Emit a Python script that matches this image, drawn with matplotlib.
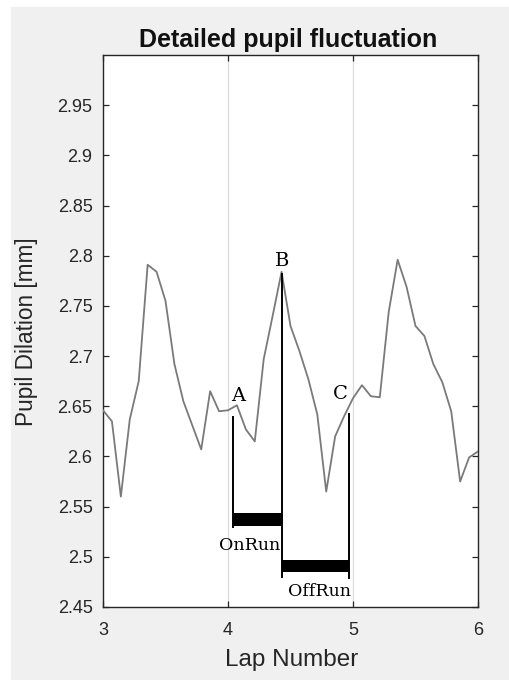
import numpy as np
import matplotlib
matplotlib.use("Agg")
import matplotlib.pyplot as plt
from matplotlib.patches import Rectangle

# ---- data ----
lap_start, lap_end = 3.0, 6.0
pupil = [2.646, 2.635, 2.560, 2.637, 2.675, 2.791, 2.784, 2.755, 2.692, 2.655,
         2.631, 2.607, 2.665, 2.645, 2.646, 2.651, 2.627, 2.615, 2.697, 2.740,
         2.784, 2.730, 2.705, 2.677, 2.642, 2.565, 2.620, 2.640, 2.658, 2.671,
         2.660, 2.659, 2.744, 2.796, 2.769, 2.730, 2.720, 2.692, 2.674, 2.645,
         2.575, 2.599, 2.605]
laps = np.linspace(lap_start, lap_end, len(pupil))

xticks = [3, 4, 5, 6]
yticks = [2.45, 2.5, 2.55, 2.6, 2.65, 2.7, 2.75, 2.8, 2.85, 2.9, 2.95]
ytick_labels = ["2.45", "2.5", "2.55", "2.6", "2.65", "2.7", "2.75", "2.8", "2.85", "2.9", "2.95"]

# markers A, B, C
mark_names = ["A", "B", "C"]
mark_x = [4.038, 4.434, 4.970]
mark_top = [2.639, 2.782, 2.642]
mark_bottom = [2.530, 2.480, 2.479]
label_x = [4.08, 4.43, 4.90]
label_y = [2.660, 2.795, 2.662]

# run bars
run_names = ["OnRun", "OffRun"]
run_start = [4.038, 4.434]
run_end = [4.434, 4.970]
run_low = [2.531, 2.485]
run_high = [2.544, 2.497]
run_label_x = [4.17, 4.73]
run_label_y = [2.511, 2.465]

# ---- figure ----
W, H = 510, 680
fig = plt.figure(figsize=(W / 100, H / 100), dpi=100, facecolor="white")
fig.patches.append(Rectangle((11 / W, 0), 1 - 11 / W, 1 - 7 / H,
                             transform=fig.transFigure, color="#f0f0f0", zorder=-10))

left, right, top, bottom = 103, 478, 55, 607
ax = fig.add_axes([left / W, 1 - bottom / H, (right - left) / W, (bottom - top) / H])
ax.set_zorder(1)
ax.set_facecolor("white")

sans = "Liberation Sans"
serif = "DejaVu Serif"

ax.plot(laps, pupil, color="#7a7a7a", lw=1.3, zorder=3)

for xg in [4, 5]:
    ax.axvline(xg, color="#dcdcdc", lw=0.9, zorder=1)

for n, x, t, b, lx, ly in zip(mark_names, mark_x, mark_top, mark_bottom, label_x, label_y):
    ax.plot([x, x], [b, t], color="black", lw=1.4, zorder=4)
    ax.text(lx, ly, n, family=serif, fontsize=14, ha="center", va="center", zorder=5)

for n, s, e, lo, hi, lx, ly in zip(run_names, run_start, run_end, run_low, run_high,
                                   run_label_x, run_label_y):
    ax.fill_between([s, e], [lo, lo], [hi, hi], color="black", lw=0, zorder=4)
    ax.text(lx, ly, n, family=serif, fontsize=12.5, ha="center", va="center", zorder=5)

ax.set_xlim(lap_start, lap_end)
ax.set_ylim(2.45, 3.0)
ax.set_xticks(xticks)
ax.set_xticklabels([str(v) for v in xticks], family=sans, fontsize=13, color="#262626")
ax.set_yticks(yticks)
ax.set_yticklabels(ytick_labels, family=sans, fontsize=13, color="#262626")
ax.tick_params(axis="both", direction="in", length=4.5, width=0.9, color="#262626",
               top=True, right=True)
ax.tick_params(axis="x", pad=11)
ax.tick_params(axis="y", pad=7.5)
for sp in ax.spines.values():
    sp.set_color("#262626")
    sp.set_linewidth(1.0)

fig.text(288 / W, 1 - 40 / H, "Detailed pupil fluctuation", family=sans, fontweight="bold",
         fontsize=18, ha="center", va="center", color="#111111")
fig.text(292 / W, 1 - 660 / H, "Lap Number", family=sans, fontsize=17.5,
         ha="center", va="center", color="#262626")
fig.text(27 / W, 1 - 332 / H, "Pupil Dilation [mm]", family=sans, fontsize=16.3,
         ha="center", va="center", rotation=90, color="#262626")

fig.savefig("out.png", dpi=100, facecolor=fig.get_facecolor())
